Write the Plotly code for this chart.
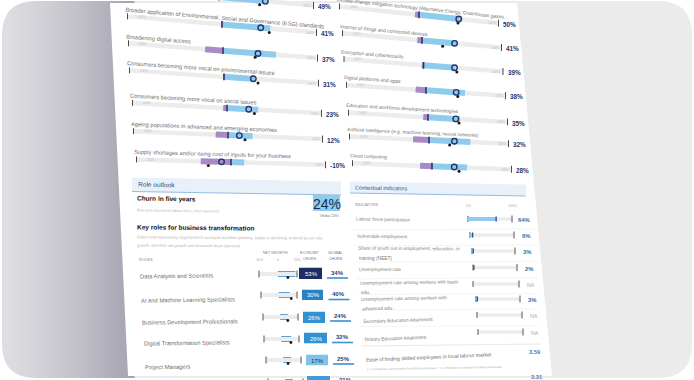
import math
import numpy as np
import plotly.graph_objects as go

# ---------------- data ----------------
# Macrotrends (left column): share of employers (%), decline to the left, growth to the right
trend_left_labels = [
    "",
    "Broader application of Environmental, Social and Governance (ESG) standards",
    "Broadening digital access",
    "Consumers becoming more vocal on environmental issues",
    "Consumers becoming more vocal on social issues",
    "Ageing populations in advanced and emerging economies",
    "Supply shortages and/or rising cost of inputs for your business",
]
trend_left_decline = [3, 1, 19, 1, 4, 13, 32]
trend_left_growth = [52, 51, 56, 33, 33, 26, 14]
trend_left_net = [49, 41, 37, 31, 23, 12, -10]
trend_left_global = [43, 50, 34, 36, 29, 18, -24]

# Technology trends (right column)
trend_right_labels = [
    "Climate-change mitigation technology (Alternative Energy, Greenhouse gases...",
    "Internet of things and connected devices",
    "Encryption and cybersecurity",
    "Digital platforms and apps",
    "Education and workforce development technologies",
    "Artificial intelligence (e.g. machine learning, neural networks)",
    "Cloud computing",
]
trend_right_decline = [5, 6, 2, 13, 6, 20, 15]
trend_right_growth = [53, 44, 40, 49, 40, 52, 44]
trend_right_net = [50, 41, 39, 38, 35, 32, 28]
trend_right_global = [49, 26, 42, 40, 39, 26, 34]

# Role outlook
churn_five_year = 24
churn_global = 23
role_names = [
    "Data Analysts and Scientists",
    "AI and Machine Learning Specialists",
    "Business Development Professionals",
    "Digital Transformation Specialists",
    "Project Managers",
    "",
]
role_net_growth = [45, 29, 21, 27, 21, 20]
role_net_growth_global = [26, 34, 21, 27, 13, 15]
role_economy_churn = [53, 30, 26, 26, 17, 24]
role_global_churn = [34, 40, 24, 32, 25, 21]
net_growth_ticks = [-50, 0, 50]

# Contextual indicators
indicator_labels = [
    "Labour force participation",
    "Vulnerable employment",
    "Share of youth not in employment, education, or<br>training (NEET)",
    "Unemployment rate",
    "Unemployment rate among workers with basic<br>edu.",
    "Unemployment rate among workers with<br>advanced edu.",
    "Secondary Education Attainment",
    "Tertiary Education Attainment",
]
indicator_values = [64, 6, 3, 2, None, 3, None, None]
indicator_ticks = [0, 100]
score_labels = ["Ease of finding skilled employees in local labour market",
                "Ease of hiring foreign labour"]
score_notes = ["1 = Companies cannot easily find skilled employees, 7 = Companies can easily find skilled employees", ""]
score_values = [3.59, 3.31]

# ---------------- geometry / style (pixels in the 694x380 frame) ----------------
W, H = 694, 380
FONT = "Liberation Sans, Arial, sans-serif"
EM = 0.485  # average character width of the font, in em
TRACK = "#ececec"
PURPLE = "#a88bc5"
BLUE = "#8fcbed"
ZERO = "#35306a"
NAVY = "#22356c"
LABEL = "#6e6e6e"

LEFT_ZERO_X = [219, 222, 223, 224, 227, 228, 231]
LEFT_ZERO_Y = [-3, 24.4, 50.7, 76.8, 108.1, 135.1, 162.1]
LEFT_SLOPE = [0.09, 0.085, 0.078, 0.068, 0.055, 0.042, 0.028]
LEFT_HALF = 94.5
RIGHT_ZERO_X = [419, 422, 423.5, 426, 428, 429, 432]
RIGHT_ZERO_Y = [14.8, 40.4, 65.3, 90.3, 117.3, 140.1, 166.2]
RIGHT_SLOPE = [0.105, 0.09, 0.078, 0.068, 0.058, 0.046, 0.038]
RIGHT_HALF = 79.5

ROLE_NAME_POS = [(138, 276), (139, 300), (140, 322), (142, 343), (143, 367), (144, 389)]
ROLE_TRACK = [(259, 297, 274), (261, 297, 295), (263, 298, 317), (264, 299, 339), (266, 301, 360), (268, 303, 382)]
ROLE_BOX = [(299, 322, 267.5, 279), (302, 323, 289.5, 300), (303, 325, 311.5, 323),
            (304, 327, 332.5, 343.5), (306, 328, 354.5, 365.5), (307, 330, 376, 387)]
ROLE_GLOBAL_POS = [(337, 272.5), (338.5, 294), (340, 315.5), (342, 337), (343, 358.5), (345, 380)]

IND_TRACK = [(468, 512, 219), (470, 514, 235), (472, 515, 251), (473, 517, 267.5),
             (473, 519, 284), (476, 520, 299), (477, 522, 315), (478, 523, 332)]
IND_TEXT = [(354, 219.5), (355, 236), (356, 248), (357, 269), (358, 282), (359, 298), (361, 320.5), (362, 338)]
SCORE_POS = [((364, 356.5), (365, 367.5), (535, 352)), ((364, 382), (365, 392), (537, 376.5))]

fig = go.Figure()
shapes = []
annotations = []
axes = {
    "xaxis": dict(domain=[0, 1], range=[0, W], visible=False, fixedrange=True),
    "yaxis": dict(domain=[0, 1], range=[H, 0], visible=False, fixedrange=True),
}
fig.add_trace(go.Scatter(x=[None], y=[None], xaxis="x", yaxis="y", hoverinfo="skip"))
axis_n = [1]


def new_axes(xpx0, xpx1, xrange, ytop, ybot, yc, unit=1.0):
    axis_n[0] += 1
    n = axis_n[0]
    t = max(ytop, 0.0)
    b = min(ybot, H)
    axes[f"xaxis{n}"] = dict(domain=[xpx0 / W, xpx1 / W], range=xrange, visible=False,
                             fixedrange=True, anchor=f"y{n}")
    axes[f"yaxis{n}"] = dict(domain=[1 - b / H, 1 - t / H], range=[(b - yc) / unit, (t - yc) / unit],
                             visible=False, fixedrange=True, anchor=f"x{n}")
    return f"x{n}", f"y{n}"


def txt(x, y, s, size, color, bold=False, anchor="left", angle=0, xref="x", yref="y", xshift=0):
    annotations.append(dict(x=x, y=y, xref=xref, yref=yref, xshift=xshift,
                            text=f"<b>{s}</b>" if bold else s, showarrow=False,
                            xanchor=anchor, yanchor="middle", textangle=angle,
                            font=dict(family=FONT, size=size, color=color)))


def line(xa, ya, xs, ys, color, width):
    fig.add_trace(go.Scatter(x=xs, y=ys, mode="lines", line=dict(color=color, width=width),
                             xaxis=xa, yaxis=ya, hoverinfo="skip"))


# ---------------- background card ----------------
def rect(x0, y0, x1, y1, color):
    shapes.append(dict(type="rect", xref="x", yref="y", x0=x0, y0=y0, x1=x1, y1=y1,
                       fillcolor=color, line=dict(width=0), layer="below"))


def path(d, color, lw=0, lc=None):
    shapes.append(dict(type="path", xref="x", yref="y", path=d, fillcolor=color,
                       line=dict(width=lw, color=lc or color), layer="below"))


rect(2, 1, 692, 378, "#ebebeb")
stops_x = [2, 40, 80, 118, 134]
stops_c = [(223, 223, 227), (211, 210, 216), (193, 192, 200), (172, 170, 182), (166, 164, 177)]
NS = 44
for i in range(NS):
    xa0 = 2 + i * (132 / NS)
    xa1 = xa0 + 132 / NS + 0.6
    xm = (xa0 + xa1) / 2
    c = [int(round(np.interp(xm, stops_x, [s[j] for s in stops_c]))) for j in range(3)]
    rect(xa0, 1, xa1, 378, f"rgb({c[0]},{c[1]},{c[2]})")
path("M 110,3 L 517,3 L 552,376 L 128,376 Z", "#ffffff")
r = 34
path(f"M 0,0 L {2+r},0 L {2+r},1 Q 2,1 2,{1+r} L 0,{1+r} Z", "#ffffff")
path(f"M {W},0 L {692-r},0 L {692-r},1 Q 692,1 692,{1+r} L {W},{1+r} Z", "#ffffff")
path(f"M 0,{H} L {2+r},{H} L {2+r},378 Q 2,378 2,{378-r} L 0,{378-r} Z", "#ffffff")
path(f"M {W},{H} L {692-r},{H} L {692-r},378 Q 692,378 692,{378-r} L {W},{378-r} Z", "#ffffff")

# section bands
path("M 132,177.5 L 341,181.5 L 341,195 L 132,191.5 Z", "#e8f1fa")
path("M 132,191.5 L 341,195", "rgba(0,0,0,0)", 1, "#95bbe0")
path("M 350,181.5 L 526,184.5 L 526,196 L 350,193 Z", "#e8f1fa")
path("M 350,193 L 526,196", "rgba(0,0,0,0)", 1, "#95bbe0")
txt(136, 184.5, "Role outlook", 6.6, "#2e4f8f", angle=1.2)
txt(353, 187.5, "Contextual indicators", 5.6, "#2e4f8f", angle=1.0)


# ---------------- trend rows ----------------
def trend_row(label, dec, grow, net, glob, zx, zy, slope, half, fs, vdx):
    pad = 1.08
    xa, ya = new_axes(zx - half * pad, zx + half * pad, [-100 * pad, 100 * pad], zy - 18, zy + 18, zy)
    k = slope * half / 100.0

    def ty(v):
        return v * k

    line(xa, ya, [-100, 100], [ty(-100), ty(100)], TRACK, 4.5)
    line(xa, ya, [-100, -100, None, 100, 100],
         [ty(-100) - 3, ty(-100) + 3, None, ty(100) - 3.5, ty(100) + 3.5], "#4a4a4a", 1)
    line(xa, ya, [-dec, 0], [ty(-dec), 0], PURPLE, 6)
    line(xa, ya, [0, grow], [0, ty(grow)], BLUE, 6)
    line(xa, ya, [0, 0], [-3.4, 3.4], ZERO, 1.6)
    fig.add_trace(go.Scatter(x=[glob], y=[ty(glob) + 4], mode="markers", xaxis=xa, yaxis=ya,
                             marker=dict(size=3, color="#1a1a1a"), hoverinfo="skip"))
    fig.add_trace(go.Scatter(x=[net], y=[ty(net)], mode="markers", xaxis=xa, yaxis=ya,
                             marker=dict(symbol="circle-open", size=5.5, color=NAVY, line=dict(width=1.4)),
                             hoverinfo="skip"))
    ang = math.degrees(math.atan(slope))
    txt(-100, ty(-100) + 0.3, "-100%", 3, "#bdbdbd", xref=xa, yref=ya, xshift=7)
    txt(100, ty(100) + 0.3, "100%", 3, "#bdbdbd", xref=xa, yref=ya, xshift=-7, anchor="center")
    txt(100, ty(100) + 1.2, f"{net}%", 6.4, NAVY, bold=True, anchor="left", xref=xa, yref=ya, xshift=vdx)
    if label:
        w = len(label) * fs * EM
        ycen = ty(-100) - 7.5 + (w / 2) * math.sin(math.radians(ang))
        txt(-100, ycen, label, fs, LABEL, angle=ang, xref=xa, yref=ya, xshift=-5)


for i in range(len(trend_left_labels)):
    trend_row(trend_left_labels[i], trend_left_decline[i], trend_left_growth[i], trend_left_net[i],
              trend_left_global[i], LEFT_ZERO_X[i], LEFT_ZERO_Y[i], LEFT_SLOPE[i], LEFT_HALF, 5.7, 2.5)
for i in range(len(trend_right_labels)):
    trend_row(trend_right_labels[i], trend_right_decline[i], trend_right_growth[i], trend_right_net[i],
              trend_right_global[i], RIGHT_ZERO_X[i], RIGHT_ZERO_Y[i], RIGHT_SLOPE[i], RIGHT_HALF, 4.9, 2.5)

# ---------------- role outlook ----------------
txt(135, 198.5, "Churn in five years", 6.5, "#111111", bold=True, angle=1.0)
txt(135, 210.5, "Five-year structural labour force churn (percent)", 3.9, "#b3b3b3", angle=0.8)
rect(313, 195, 340, 211, "#8ecbec")
txt(326.5, 203.5, f"{churn_five_year}%", 14, "#1b2b57", anchor="center")
txt(341, 215.5, f"Global {churn_global}%", 3.6, "#777777", anchor="right")
txt(135, 227.5, "Key roles for business transformation", 6.5, "#111111", bold=True, angle=0.6)
txt(135, 237, "Roles most selected by organizations surveyed as either growing, stable or declining, ordered by net role",
    4.0, "#b3b3b3", angle=0.3)
txt(135, 245.5, "growth, and their net growth and structural churn (percent)", 4.0, "#b3b3b3", angle=0.3)
txt(137, 259, "ROLES", 4, "#888888")
txt(275.5, 252.5, "NET GROWTH", 3.6, "#777777", anchor="center")
txt(309.5, 252.5, "ECONOMY", 3.6, "#777777", anchor="center")
txt(309.5, 259, "CHURN", 3.6, "#777777", anchor="center")
txt(335, 252.5, "GLOBAL", 3.6, "#3a6fb0", anchor="center")
txt(335, 259, "CHURN", 3.6, "#3a6fb0", anchor="center")

CHURN_SCALE = [[0, "#cde8f8"], [0.15, "#80c4ea"], [0.36, "#2f90d3"], [0.45, "#2a80c2"],
               [0.75, "#234b8a"], [1, "#1b2859"]]
first_net_axis = None
for i in range(len(role_names)):
    l, rr, yc = ROLE_TRACK[i]
    u = 2 * 100 / (rr - l)
    xa, ya = new_axes(l - 2, rr + 2, [-50 - u, 50 + u], yc - 8, yc + 8, yc)
    if first_net_axis is None:
        first_net_axis = xa
    line(xa, ya, [-50, 50], [0, 0], TRACK, 4)
    line(xa, ya, [-50, -50, None, 50, 50], [-3.5, 3.5, None, -3.5, 3.5], "#555555", 1)
    fig.add_trace(go.Bar(x=[role_net_growth[i]], y=[0], base=0, orientation="h", width=5,
                         marker=dict(color=BLUE, line=dict(color="#3d8fd1", width=0.8)),
                         xaxis=xa, yaxis=ya, hoverinfo="skip"))
    fig.add_trace(go.Scatter(x=[role_net_growth_global[i]], y=[3.5], mode="markers", xaxis=xa, yaxis=ya,
                             marker=dict(size=2.8, color="#1a1a1a"), hoverinfo="skip"))
    bx0, bx1, by0, by1 = ROLE_BOX[i]
    xb, yb = new_axes(bx0, bx1, [-0.5, 0.5], by0, by1, (by0 + by1) / 2, unit=(by1 - by0))
    v = role_economy_churn[i]
    fig.add_trace(go.Heatmap(z=[[v]], x=[0], y=[0], zmin=10, zmax=55, colorscale=CHURN_SCALE,
                             showscale=False, texttemplate="%{z}%", hoverinfo="skip",
                             textfont=dict(family=FONT, size=6.0, color="#ffffff" if v >= 20 else "#1b2b57"),
                             xaxis=xb, yaxis=yb))
    if role_names[i]:
        nx, ny = ROLE_NAME_POS[i]
        txt(nx, ny, role_names[i], 5.8, LABEL, angle=-0.8)
    gx, gy = ROLE_GLOBAL_POS[i]
    txt(gx, gy, f"{role_global_churn[i]}%", 6.0, "#2a3f7a", bold=True, anchor="center")
    shapes.append(dict(type="line", xref="x", yref="y", x0=gx - 10, x1=gx + 11, y0=gy + 5.5, y1=gy + 5.5,
                       line=dict(color="#3a8fd3", width=1.6), layer="below"))
for t in net_growth_ticks:
    txt(t, 259.5, f"{t}%" if t else "0", 3.4, "#aaaaaa", anchor="center", xref=first_net_axis)

# ---------------- contextual indicators ----------------
txt(353, 204.5, "INDICATORS", 3.8, "#888888")


def ang_ctx(y):
    return float(np.interp(y, [219, 250, 282, 320, 356], [1.2, 0.3, -0.8, -1.8, -2.5]))


first_ind_axis = None
for i, (lab, val) in enumerate(zip(indicator_labels, indicator_values)):
    x0, x100, yc = IND_TRACK[i]
    pad = 3 / ((x100 - x0) / 100)
    xa, ya = new_axes(x0 - 3, x100 + 3, [-pad, 100 + pad], yc - 6, yc + 6, yc)
    if first_ind_axis is None:
        first_ind_axis = xa
    line(xa, ya, [0, 100], [0, 0], TRACK, 3.5)
    line(xa, ya, [0, 0, None, 100, 100], [-3, 3, None, -3.5, 3.5], "#555555", 1)
    if val is not None:
        line(xa, ya, [0, val], [0, 0], BLUE, 4)
        line(xa, ya, [val, val], [-2.5, 2.5], "#1f4e8c", 1.3)
        txt(100, 1, f"{val}%", 5.8, "#2b6cb0", bold=True, anchor="center", xref=xa, yref=ya, xshift=12)
    else:
        txt(100, 1, "NA", 5.3, "#aaaaaa", anchor="center", xref=xa, yref=ya, xshift=12)
    tx, ty0 = IND_TEXT[i]
    for j, part in enumerate(lab.split("<br>")):
        yy = ty0 + j * 10.5
        txt(tx + j * 0.5, yy, part, 4.8, "#7a7a7a", angle=ang_ctx(yy))
    if i < len(indicator_labels) - 1:
        ysep = (IND_TRACK[i][2] + IND_TRACK[i + 1][2]) / 2 + 3
        shapes.append(dict(type="line", xref="x", yref="y", x0=tx, x1=538, y0=ysep, y1=ysep - 1,
                           line=dict(color="#f1f1f1", width=0.8), layer="below"))
for t in indicator_ticks:
    txt(t, 205.5, f"{t}%", 3.4, "#aaaaaa", anchor="center", xref=first_ind_axis)

shapes.append(dict(type="line", xref="x", yref="y", x0=362, x1=541, y0=346, y1=344,
                   line=dict(color="#e2e2e2", width=0.8), layer="below"))
for i in range(len(score_labels)):
    (lx, ly), (nx, ny), (vx, vy) = SCORE_POS[i]
    txt(lx, ly, score_labels[i], 5.1, "#666666", angle=-2.5)
    if score_notes[i]:
        txt(nx, ny, score_notes[i], 3.0, "#aaaaaa", angle=-1.0)
    txt(vx, vy, f"{score_values[i]:.2f}", 5.8, "#3b7fc4", bold=True, anchor="center")

fig.update_layout(
    width=W, height=H, margin=dict(l=0, r=0, t=0, b=0),
    paper_bgcolor="#ffffff", plot_bgcolor="rgba(0,0,0,0)",
    showlegend=False, shapes=shapes, annotations=annotations,
    font=dict(family=FONT), **axes,
)
fig.write_html("out.html", config={"displayModeBar": False, "staticPlot": True})
